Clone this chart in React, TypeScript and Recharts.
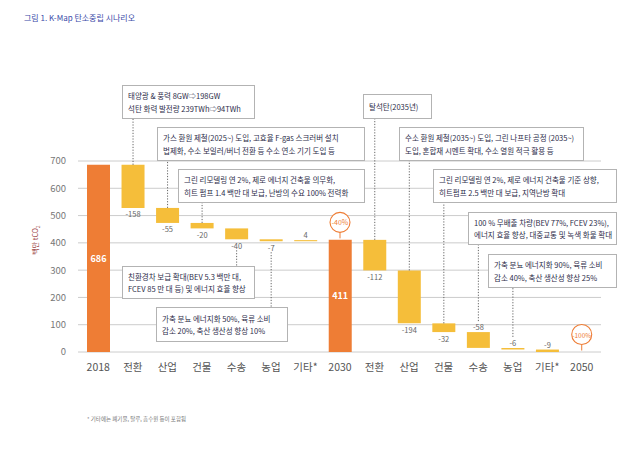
import React from 'react';
import { ComposedChart, Bar, XAxis, YAxis, CartesianGrid, Cell, LabelList, ReferenceDot } from 'recharts';

// ---------- data ----------
const categories = ['2018', '전환', '산업', '건물', '수송', '농업', '기타*', '2030', '전환', '산업', '건물', '수송', '농업', '기타*', '2050'];
const totals: (number | null)[] = [686, null, null, null, null, null, null, 411, null, null, null, null, null, null, 0];
const deltas: (number | null)[] = [null, -158, -55, -20, -40, -7, 4, null, -112, -194, -32, -58, -6, -9, null];
const yTicks = [0, 100, 200, 300, 400, 500, 600, 700];
const reductionMarks = [
  { index: 7, value: 411, text: '-40%' },
  { index: 14, value: 0, text: '-100%' },
];
const titleText = '그림 1. K-Map 탄소중립 시나리오';
const footnoteText = '* 기타에는 폐기물, 탈루, 흡수원 등이 포함됨';

// ---------- layout / style (not data) ----------
const ORANGE = '#EE7D35';
const YELLOW = '#F5BE3A';
const labelSide = ['', 'below', 'below', 'below', 'below', 'below', 'above', '', 'below', 'below', 'below', 'above', 'above', 'above', ''];
// leader lines from a bar to its annotation box edge (pixel y of box edge)
const leaders: Record<number, { dir: 'up' | 'down'; toY: number }> = {
  1: { dir: 'up', toY: 118 },
  2: { dir: 'up', toY: 160 },
  3: { dir: 'up', toY: 202 },
  4: { dir: 'down', toY: 266 },
  5: { dir: 'down', toY: 307 },
  8: { dir: 'up', toY: 118 },
  9: { dir: 'up', toY: 160 },
  10: { dir: 'up', toY: 202 },
  11: { dir: 'up', toY: 244 },
  12: { dir: 'up', toY: 287 },
};
const boxes = [
  { x: 122, y: 85, w: 132, h: 33, lines: ['태양광 & 풍력 8GW⇨198GW', '석탄 화력 발전량 239TWh⇨94TWh'] },
  { x: 157, y: 127, w: 207, h: 33, lines: ['가스 환원 제철(2025~) 도입, 고효율 F-gas 스크러버 설치', '법제화, 수소 보일러/버너 전환 등 수소 연소 기기 도입 등'] },
  { x: 178, y: 169, w: 186, h: 33, lines: ['그린 리모델링 연 2%,  제로 에너지 건축물 의무화,', '히트 펌프 1.4 백만 대 보급, 난방의 수요 100% 전력화'] },
  { x: 122, y: 266, w: 132, h: 32, lines: ['친환경차 보급 확대(BEV 5.3 백만 대,', 'FCEV 85 만 대 등) 및 에너지 효율 향상'] },
  { x: 156, y: 307, w: 131, h: 34, lines: ['가축 분뇨 에너지화 50%, 육류 소비', '감소 20%, 축산 생산성 향상 10%'] },
  { x: 363, y: 94, w: 68, h: 24, lines: ['탈석탄(2035년)'] },
  { x: 399, y: 127, w: 184, h: 33, lines: ['수소 환원 제철(2035~) 도입, 그린 나프타 공정 (2035~)', '도입, 혼합재 시멘트 확대, 수소 열원 적극 활용 등'] },
  { x: 433, y: 169, w: 183, h: 33, lines: ['그린 리모델링 연 2%, 제로 에너지 건축물 기준 상향,', '히트펌프 2.5 백만 대 보급, 지역난방 확대'] },
  { x: 468, y: 212, w: 148, h: 32, lines: ['100 % 무배출 차량(BEV 77%, FCEV 23%),', '에너지 효율 향상, 대중교통 및 녹색 화물 확대'] },
  { x: 488, y: 254, w: 128, h: 33, lines: ['가축 분뇨 에너지화 90%, 육류 소비', '감소 40%, 축산 생산성 향상 25%'] },
];

const FONT = '"Noto Sans CJK KR", "Noto Sans", sans-serif';

// ---------- waterfall table ----------
let level = 0;
const data = categories.map((name, i) => {
  const t = totals[i];
  const d = deltas[i];
  let range: [number, number];
  if (t !== null) {
    level = t;
    range = [0, t];
  } else {
    const prev = level;
    level = prev + (d as number);
    range = [Math.min(prev, level), Math.max(prev, level)];
  }
  return { key: 'k' + i, name, range, total: t, delta: d };
});
const nameByKey: Record<string, string> = {};
data.forEach((d) => (nameByKey[d.key] = d.name));

const renderLabel = (props: any) => {
  const { x, y, width, height, index } = props;
  if (x == null || y == null) return null;
  const top = Math.min(y, y + height);
  const bottom = Math.max(y, y + height);
  const cx = x + width / 2;
  const d = data[index];
  const els: React.ReactNode[] = [];
  if (d.total !== null) {
    if (d.total > 0)
      els.push(
        <text key="t" x={cx} y={(top + bottom) / 2} fill="#fff" fontSize={9} fontWeight={700} textAnchor="middle" dominantBaseline="central" fontFamily={FONT}>
          {d.total}
        </text>
      );
  } else {
    const side = labelSide[index];
    const ly = side === 'above' ? top - 5.5 : bottom + 6;
    els.push(
      <text key="t" x={cx} y={ly} fill="#666" fontSize={7.5} textAnchor="middle" dominantBaseline="central" fontFamily={FONT}>
        {d.delta}
      </text>
    );
  }
  const ld = leaders[index];
  if (ld) {
    let from: number;
    if (ld.dir === 'up') from = labelSide[index] === 'above' ? top - 11 : top;
    else from = bottom + 11;
    els.push(<line key="l" x1={cx} x2={cx} y1={from} y2={ld.toY} stroke="#555" strokeWidth={0.9} strokeDasharray="1.2 1.6" />);
  }
  return <g>{els}</g>;
};

const markShape = (text: string) => (p: any) => {
  const { cx, cy } = p;
  if (cx == null || cy == null) return <g />;
  const c = cy - 17.5;
  return (
    <g>
      <line x1={cx} x2={cx} y1={c + 10} y2={cy - 1.5} stroke={ORANGE} strokeWidth={1} />
      <circle cx={cx} cy={c} r={10} fill="#fff" stroke={ORANGE} strokeWidth={1.1} />
      <text x={cx} y={c} fill={ORANGE} fontSize={text.length > 4 ? 6.5 : 7} textAnchor="middle" dominantBaseline="central" fontFamily={FONT}>
        {text}
      </text>
    </g>
  );
};

export default function App() {
  return (
    <div style={{ position: 'absolute', left: 0, top: 0, width: 641, height: 449, background: '#fff' }}>
      <ComposedChart width={641} height={449} data={data} margin={{ top: 161, right: 40, bottom: 67, left: 0 }}>
        <CartesianGrid vertical={false} stroke="#cccccc" />
        <XAxis
          dataKey="key"
          axisLine={false}
          tickLine={false}
          tickSize={0}
          tickMargin={12}
          height={30}
          interval={0}
          padding={{ left: 3, right: 2 }}
          tickFormatter={(v: string) => nameByKey[v]}
          tick={{ fontSize: 10.5, fill: '#555', fontFamily: FONT }}
        />
        <YAxis
          width={78}
          domain={[0, 700]}
          ticks={yTicks}
          axisLine={false}
          tickLine={false}
          tickSize={0}
          tickMargin={12}
          tick={{ fontSize: 9.5, fill: '#777', fontFamily: FONT }}
        />
        <Bar dataKey="range" barSize={23} isAnimationActive={false}>
          {data.map((d, i) => (
            <Cell key={i} fill={d.total !== null ? ORANGE : YELLOW} />
          ))}
          <LabelList dataKey="range" content={renderLabel} />
        </Bar>
        {reductionMarks.map((m) => (
          <ReferenceDot key={m.index} x={'k' + m.index} y={m.value} r={0} shape={markShape(m.text)} ifOverflow="visible" />
        ))}
      </ComposedChart>
      <svg width={641} height={449} style={{ position: 'absolute', left: 0, top: 0, pointerEvents: 'none' }}>
        <text x={24} y={17} fontSize={8} fill="#3b4aa8" dominantBaseline="central" fontFamily={FONT}>
          {titleText}
        </text>
        <text x={0} y={0} transform="translate(35,240) rotate(-90)" fontSize={7} fill="#a04a4a" textAnchor="middle" dominantBaseline="central" fontFamily={FONT}>
          백만 tCO<tspan fontSize={5} dy={2}>2</tspan>
        </text>
        <text x={87} y={419} fontSize={5.5} fill="#777" dominantBaseline="central" fontFamily={FONT}>
          {footnoteText}
        </text>
        {boxes.map((b, i) => (
          <g key={i}>
            <rect x={b.x + 0.5} y={b.y + 0.5} width={b.w} height={b.h} fill="#fff" stroke="#b3b3b3" strokeWidth={1} />
            {b.lines.map((ln, j) => (
              <text
                key={j}
                x={b.x + 6}
                y={b.y + b.h / 2 + (b.lines.length === 1 ? 0 : j === 0 ? -6 : 6.5)}
                fontSize={7.5}
                fill="#2d2d4a"
                dominantBaseline="central"
                fontFamily={FONT}
              >
                {ln}
              </text>
            ))}
          </g>
        ))}
      </svg>
    </div>
  );
}
